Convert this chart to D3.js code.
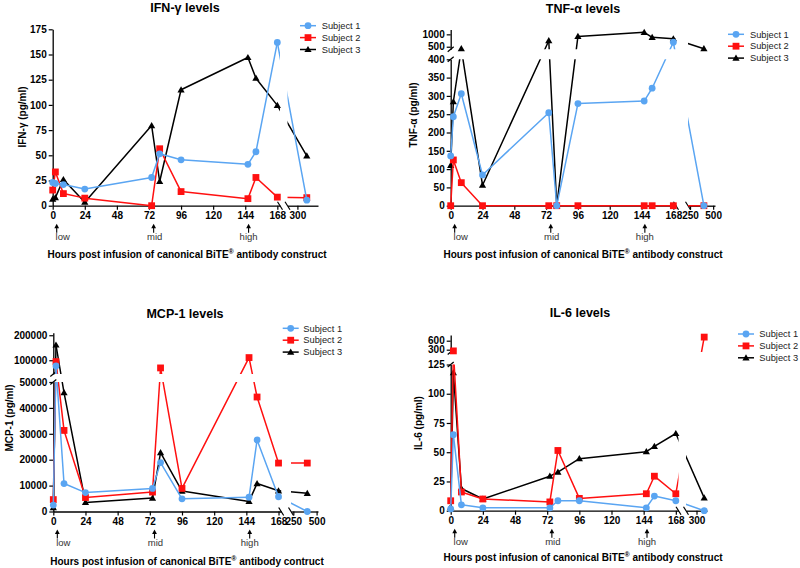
<!DOCTYPE html>
<html><head><meta charset="utf-8">
<script src="https://cdn.jsdelivr.net/npm/d3@7"></script>
<style>
body{margin:0;background:#fff;}
svg{font-family:"Liberation Sans",Arial,sans-serif;}
</style></head><body>
<svg id="c" width="800" height="568"></svg>
<script>
// ---------------- data ----------------
const hours = [0, 2, 8, 24, 74, 80, 96, 146, 152, 168];
const lateHours = [336, 400, 400, 336]; // last sample per panel (after axis break)
const subjects = ["Subject 1", "Subject 2", "Subject 3"];

const ifnS1 = [23, 22, 21, 16.5, 28, 51.5, 45.5, 41, 53.5, 162, 5.5];
const ifnS2 = [15.5, 33.5, 12, 7.5, 0, 56.5, 14, 7, 28, 8.5, 8];
const ifnS3 = [6.5, 8, 26, 3.5, 79.5, 24, 115, 147, 126.5, 99.5, 49.5];

const tnfS1 = [136, 243, 306, 84, 254, 0, 279, 286, 321, 680, 0];
const tnfS2 = [0, 125, 63, 0, 0, 0, 0, 0, 0, 0, 0];
const tnfS3 = [110, 284, 420, 56, 743, 0, 915, 1080, 880, 823, 420];

const mcpS1 = [2500, 77000, 10800, 7300, 8900, 18900, 4900, 5500, 27600, 5700, 0];
const mcpS2 = [4600, 94700, 31300, 5400, 7500, 69300, 8900, 110700, 44200, 18700, 18700];
const mcpS3 = [1500, 161000, 45900, 3500, 5200, 22700, 7900, 3900, 10800, 8000, 7000];

const il6S1 = [1.5, 65, 5, 2.5, 2.5, 8.5, 8.5, 2.5, 12.5, 8.5, 0];
const il6S2 = [8.5, 260, 16, 10, 7.5, 51.5, 10.5, 14.5, 29.5, 14.5, 720];
const il6S3 = [3, 118, 19, 10, 29.5, 33, 44.5, 50.5, 55, 66, 11];

const xTicksMain = [0, 24, 48, 72, 96, 120, 144, 168];
const xTicksLateA = [300];
const xTicksLateB = [250, 500];
const ifnYTicks = [0, 25, 50, 75, 100, 125, 150, 175];
const tnfYTicks = [0, 50, 100, 150, 200, 250, 300, 350, 400];
const tnfYTicksUp = [500, 1000];
const mcpYTicks = [0, 10000, 20000, 30000, 40000, 50000];
const mcpYTicksUp = [100000, 200000];
const il6YTicks = [0, 25, 50, 75, 100, 125];
const il6YTicksUp = [300, 600];

const doseHours = [3, 75.5, 146.5];
const doseLabels = ["low", "mid", "high"];

const titles = ["IFN-\u03b3 levels", "TNF-\u03b1 levels", "MCP-1 levels", "IL-6 levels"];
const yLabels = ["IFN-\u03b3 (pg/ml)", "TNF-\u03b1 (pg/ml)", "MCP-1 (pg/ml)", "IL-6 (pg/ml)"];
const xTitleEnds = [" antibody construct", " antibody construct", " antibody contruct", " antibody construct"];

// ---------------- layout ----------------
const colors = ["#5aa5f2", "#ff1010", "#000000"];
const panels = [
  { series: [ifnS1, ifnS2, ifnS3], late: lateHours[0],
    x1: {d: [0, 170], r: [52.7, 280]}, x2: {d: [262, 379], r: [287.5, 318]}, x2Ticks: xTicksLateA,
    yLo: {d: [0, 175], r: [205.7, 29.3]}, yLoTicks: ifnYTicks, yUp: null,
    legend: [300, 25.7, 321.7], title: [185, 8], yLab: [22, 117], xTitle: [187, 254] },
  { series: [tnfS1, tnfS2, tnfS3], late: lateHours[1],
    x1: {d: [0, 170], r: [450.7, 676]}, x2: {d: [228, 520], r: [688, 715]}, x2Ticks: xTicksLateB,
    yLo: {d: [0, 400], r: [205.7, 59.3]}, yLoTicks: tnfYTicks,
    yUp: {d: [400, 1200], r: [49.2, 29.4]}, yUpTicks: tnfYTicksUp,
    legend: [728, 34.3, 750], title: [583, 8.3], yLab: [413, 115], xTitle: [583, 254] },
  { series: [mcpS1, mcpS2, mcpS3], late: lateHours[2],
    x1: {d: [0, 170], r: [53.3, 281.2]}, x2: {d: [225, 515], r: [291, 318]}, x2Ticks: xTicksLateB,
    yLo: {d: [0, 50000], r: [511.5, 382]}, yLoTicks: mcpYTicks,
    yUp: {d: [45000, 210000], r: [374, 332.75]}, yUpTicks: mcpYTicksUp,
    legend: [282.7, 328.3, 303.3], title: [185, 313.3], yLab: [9, 418], xTitle: [187, 561] },
  { series: [il6S1, il6S2, il6S3], late: lateHours[3],
    x1: {d: [0, 170], r: [450.7, 678.5]}, x2: {d: [251, 349], r: [686, 707]}, x2Ticks: xTicksLateA,
    yLo: {d: [0, 125], r: [510.7, 364.5]}, yLoTicks: il6YTicks,
    yUp: {d: [223, 790], r: [352, 335]}, yUpTicks: il6YTicksUp,
    legend: [738, 334, 759.3], title: [580, 312.7], yLab: [418, 423], xTitle: [583, 557] }
];
const doseDx = [6, 1, 0];

const svg = d3.select("#c");
const defs = svg.append("defs");
let clipCount = 0;

function drawMarker(g, i, x, y) {
  if (i === 0) {
    g.append("circle").attr("cx", x).attr("cy", y).attr("r", 3.4).attr("fill", colors[0]);
  } else if (i === 1) {
    g.append("rect").attr("x", x - 3.4).attr("y", y - 3.4).attr("width", 6.8).attr("height", 6.8).attr("fill", colors[1]);
  } else {
    g.append("path").attr("d", `M${x},${y - 3.6}L${x + 3.6},${y + 2.6}L${x - 3.6},${y + 2.6}Z`).attr("fill", colors[2]);
  }
}

panels.forEach((p, pi) => {
  const g = svg.append("g");
  const sx1 = d3.scaleLinear().domain(p.x1.d).range(p.x1.r);
  const sx2 = d3.scaleLinear().domain(p.x2.d).range(p.x2.r);
  const xSeg = h => (h <= p.x1.d[1] ? 0 : 1);
  const X = h => (xSeg(h) === 0 ? sx1(h) : sx2(h));
  const syLo = d3.scaleLinear().domain(p.yLo.d).range(p.yLo.r);
  const syUp = p.yUp ? d3.scaleLinear().domain(p.yUp.d).range(p.yUp.r) : null;
  const ySeg = v => (!syUp || v <= p.yLo.d[1] ? 0 : 1);
  const Y = v => (ySeg(v) === 0 ? syLo(v) : syUp(v));
  const axisY = p.yLo.r[0];
  const axisX = p.x1.r[0];

  // cell rectangles (for clipping line pieces at the axis breaks)
  const xBands = [[0, p.x1.r[1]], [p.x2.r[0], 800]];
  const yBands = syUp ? [[p.yLo.r[1], 568], [0, p.yUp.r[0]]] : [[0, 568]];
  const clipFor = cells => {
    const id = "clip" + (clipCount++);
    const cp = defs.append("clipPath").attr("id", id);
    cells.forEach(([xi, yi]) => {
      const a = xBands[xi], b = yBands[yi];
      cp.append("rect").attr("x", a[0]).attr("y", b[0]).attr("width", a[1] - a[0]).attr("height", b[1] - b[0]);
    });
    return id;
  };

  // axes
  const styleAxis = sel => {
    sel.selectAll("path.domain").attr("stroke", "#000").attr("stroke-width", 1.3);
    sel.selectAll(".tick line").attr("stroke", "#000").attr("stroke-width", 1.2);
    sel.selectAll(".tick text").attr("font-size", 10).attr("font-weight", "bold").attr("fill", "#000")
      .attr("font-family", "'Liberation Sans', Arial, sans-serif");
  };
  const fmt = d3.format("d");
  g.append("g").attr("transform", `translate(0,${axisY})`)
    .call(d3.axisBottom(sx1).tickValues(xTicksMain).tickSize(4).tickSizeOuter(0).tickPadding(2).tickFormat(fmt)).call(styleAxis);
  g.append("g").attr("transform", `translate(0,${axisY})`)
    .call(d3.axisBottom(sx2).tickValues(p.x2Ticks).tickSize(4).tickSizeOuter(0).tickPadding(2).tickFormat(fmt)).call(styleAxis);
  g.append("g").attr("transform", `translate(${axisX},0)`)
    .call(d3.axisLeft(syLo).tickValues(p.yLoTicks).tickSize(4).tickSizeOuter(0).tickPadding(2).tickFormat(fmt)).call(styleAxis);
  if (syUp) {
    g.append("g").attr("transform", `translate(${axisX},0)`)
      .call(d3.axisLeft(syUp).tickValues(p.yUpTicks).tickSize(4).tickSizeOuter(0).tickPadding(2).tickFormat(fmt)).call(styleAxis);
  }
  // break marks
  const bm = g.append("g").attr("stroke", "#000").attr("stroke-width", 1.2);
  [p.x1.r[1], p.x2.r[0]].forEach(x => bm.append("line")
    .attr("x1", x - 2.5).attr("y1", axisY - 4).attr("x2", x + 2.5).attr("y2", axisY + 4));
  if (syUp) {
    [p.yLo.r[1], p.yUp.r[0]].forEach(y => bm.append("line")
      .attr("x1", axisX - 3).attr("y1", y + 2.5).attr("x2", axisX + 3).attr("y2", y - 2.5));
  }

  // series lines (subject 3 first, subject 1 on top)
  const line = d3.line();
  [2, 1, 0].forEach(si => {
    const vals = p.series[si];
    const allH = hours.concat([p.late]);
    const pts = allH.map((h, k) => [X(h), Y(vals[k])]);
    const cells = allH.map((h, k) => [xSeg(h), ySeg(vals[k])]);
    const lg = g.append("g");
    for (let k = 0; k < pts.length - 1; k++) {
      const a = cells[k], b = cells[k + 1];
      const cl = (a[0] === b[0] && a[1] === b[1]) ? [a] : [a, b];
      lg.append("path").attr("d", line([pts[k], pts[k + 1]])).attr("fill", "none")
        .attr("stroke", colors[si]).attr("stroke-width", 1.5).attr("stroke-linecap", "round")
        .attr("clip-path", `url(#${clipFor(cl)})`);
    }
    const mg = g.append("g");
    pts.forEach(pt => drawMarker(mg, si, pt[0], pt[1]));
  });

  // dose arrows
  doseHours.forEach((h, k) => {
    const x = X(h);
    g.append("line").attr("x1", x).attr("x2", x).attr("y1", axisY + 21).attr("y2", axisY + 27)
      .attr("stroke", "#000").attr("stroke-width", 1.1);
    g.append("path").attr("d", `M${x},${axisY + 18}L${x + 2.4},${axisY + 22.5}L${x - 2.4},${axisY + 22.5}Z`).attr("fill", "#000");
    g.append("text").attr("x", x + doseDx[k]).attr("y", axisY + 31).attr("dy", "0.35em")
      .attr("text-anchor", "middle").attr("font-size", 9.5).attr("fill", "#333").text(doseLabels[k]);
  });

  // titles
  g.append("text").attr("x", p.title[0]).attr("y", p.title[1]).attr("dy", "0.35em")
    .attr("text-anchor", "middle").attr("font-size", 12.5).attr("font-weight", "bold").text(titles[pi]);
  g.append("text").attr("transform", `translate(${p.yLab[0]},${p.yLab[1]}) rotate(-90)`).attr("dy", "0.35em")
    .attr("text-anchor", "middle").attr("font-size", 10).attr("font-weight", "bold").text(yLabels[pi]);
  const xt = g.append("text").attr("x", p.xTitle[0]).attr("y", p.xTitle[1]).attr("dy", "0.35em")
    .attr("text-anchor", "middle").attr("font-size", 10).attr("font-weight", "bold");
  xt.append("tspan").text("Hours post infusion of canonical BiTE");
  xt.append("tspan").attr("font-size", 7).attr("dy", "-4").text("\u00ae");
  xt.append("tspan").attr("dy", "4").text(xTitleEnds[pi]);

  // legend
  subjects.forEach((s, si) => {
    const y = p.legend[1] + si * 11.9;
    g.append("line").attr("x1", p.legend[0]).attr("x2", p.legend[0] + 16).attr("y1", y).attr("y2", y)
      .attr("stroke", colors[si]).attr("stroke-width", 1.5);
    drawMarker(g, si, p.legend[0] + 8, y);
    g.append("text").attr("x", p.legend[2]).attr("y", y).attr("dy", "0.35em")
      .attr("font-size", 9.3).attr("fill", "#222").text(s);
  });
});
</script></body></html>
